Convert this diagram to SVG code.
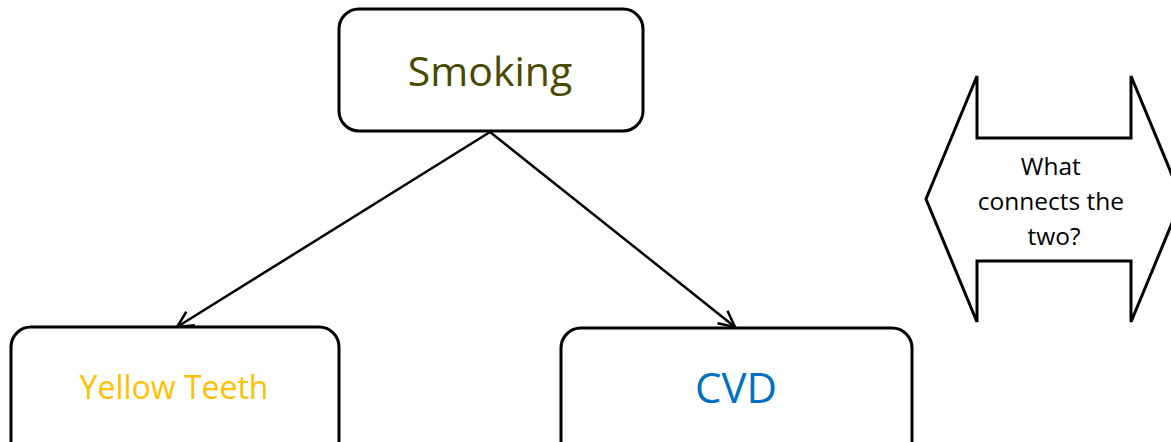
<svg xmlns="http://www.w3.org/2000/svg" width="1171" height="442" viewBox="0 0 1171 442">
  <defs>
    <marker id="open-head" viewBox="0 0 20 20" refX="18" refY="10" markerWidth="20" markerHeight="20" markerUnits="userSpaceOnUse" orient="auto">
      <path d="M2,2 L18,10 L2,18" fill="none" stroke="#000" stroke-width="2.5"/>
    </marker>
  </defs>
  <style>
    .box { fill: #fff; stroke: #000; stroke-width: 3; }
    .label { font-family: "Open Sans", "Noto Sans", "Liberation Sans", sans-serif; text-anchor: middle; }
    .edge { stroke: #000; stroke-width: 2.5; fill: none; marker-end: url(#open-head); }
  </style>
  <rect width="1171" height="442" fill="#fff"/>

  <g id="connectors">
    <line class="edge" x1="490" y1="132" x2="177" y2="327"/>
    <line class="edge" x1="490" y1="132" x2="735" y2="327"/>
  </g>

  <g id="node-smoking">
    <rect class="box" x="339" y="9" width="304" height="122" rx="20" ry="20"/>
    <text class="label" x="490" y="86" font-size="41" fill="#494900">Smoking</text>
  </g>

  <g id="node-yellow-teeth">
    <rect class="box" x="11" y="327" width="328" height="140" rx="20" ry="20"/>
    <text class="label" x="174" y="399" font-size="32" fill="#FFC000">Yellow Teeth</text>
  </g>

  <g id="node-cvd">
    <rect class="box" x="561" y="328" width="351" height="140" rx="20" ry="20"/>
    <text class="label" x="736" y="403" font-size="42" fill="#0070C0">CVD</text>
  </g>

  <g id="node-question">
    <path class="box" d="M926,199 L977,76 L977,138 L1131,138 L1131,76 L1182,199 L1131,322 L1131,261 L977,261 L977,322 Z"/>
    <text class="label" font-size="24.5" fill="#000">
      <tspan x="1054" y="175">What</tspan>
      <tspan x="1054" y="210">connects the</tspan>
      <tspan x="1054" y="245">two?</tspan>
    </text>
  </g>
</svg>
